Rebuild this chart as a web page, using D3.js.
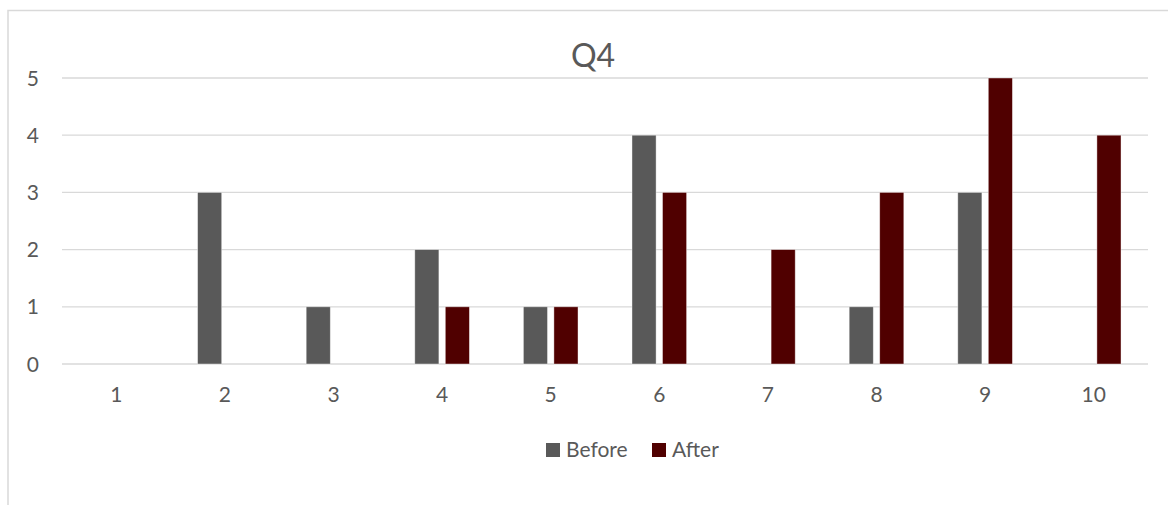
<!DOCTYPE html>
<html>
<head>
<meta charset="utf-8">
<script src="https://cdn.jsdelivr.net/npm/d3@7"></script>
<style>
  html, body { margin: 0; padding: 0; background: #fff; }
  svg { display: block; font-family: Lato, "Open Sans", sans-serif; }
</style>
</head>
<body>
<svg id="chart" width="1169" height="505"></svg>
<script>
// Responses per score, before and after
const categories = ["1", "2", "3", "4", "5", "6", "7", "8", "9", "10"];
const seriesNames = ["Before", "After"];
const beforeValues = [0, 3, 1, 2, 1, 4, 0, 1, 3, 0];
const afterValues = [0, 0, 0, 1, 1, 3, 2, 3, 5, 4];
const yTicks = [0, 1, 2, 3, 4, 5];
const colors = ["#595959", "#500000"];

const svg = d3.select("#chart");
const textColor = "#595959";
const gridColor = "#d9d9d9";

// outer frame (left and top edges visible)
svg.append("path")
  .attr("d", "M8,505 L8,10.5 L1168,10.5")
  .attr("fill", "none")
  .attr("stroke", gridColor)
  .attr("stroke-width", 1.5);

const plot = { left: 62, right: 1148, top: 78, bottom: 364 };

const x0 = d3.scaleBand()
  .domain(categories)
  .range([plot.left, plot.right])
  .paddingInner(0.497)
  .paddingOuter(0.2485);

const x1 = d3.scaleBand()
  .domain(seriesNames)
  .range([0, x0.bandwidth()])
  .paddingInner(0.21);

const y = d3.scaleLinear().domain([0, 5]).range([plot.bottom, plot.top]);

// gridlines
svg.append("g")
  .selectAll("line")
  .data(yTicks)
  .join("line")
  .attr("x1", plot.left)
  .attr("x2", plot.right)
  .attr("y1", d => y(d))
  .attr("y2", d => y(d))
  .attr("stroke", gridColor)
  .attr("stroke-width", 1.3);

// y tick labels
svg.append("g")
  .selectAll("text")
  .data(yTicks)
  .join("text")
  .attr("x", 39)
  .attr("y", d => y(d))
  .attr("dy", "0.36em")
  .attr("text-anchor", "end")
  .attr("fill", textColor)
  .attr("font-size", 21)
  .text(d => d);

// x tick labels
svg.append("g")
  .selectAll("text")
  .data(categories)
  .join("text")
  .attr("x", d => x0(d) + x0.bandwidth() / 2)
  .attr("y", 402)
  .attr("text-anchor", "middle")
  .attr("fill", textColor)
  .attr("font-size", 21)
  .text(d => d);

// bars
const rows = categories.map((c, i) => ({
  cat: c,
  vals: [
    { name: "Before", v: beforeValues[i] },
    { name: "After", v: afterValues[i] }
  ]
}));

svg.append("g")
  .selectAll("g")
  .data(rows)
  .join("g")
  .attr("transform", d => `translate(${x0(d.cat)},0)`)
  .selectAll("rect")
  .data(d => d.vals.filter(e => e.v > 0))
  .join("rect")
  .attr("x", d => x1(d.name))
  .attr("width", x1.bandwidth())
  .attr("y", d => y(d.v))
  .attr("height", d => y(0) - y(d.v))
  .attr("fill", d => colors[seriesNames.indexOf(d.name)])
  .attr("stroke", "#ffffff")
  .attr("stroke-opacity", 0.5)
  .attr("stroke-width", 0.8);

// title
svg.append("text")
  .attr("x", 593)
  .attr("y", 67)
  .attr("text-anchor", "middle")
  .attr("fill", textColor)
  .attr("font-size", 32)
  .text("Q4");

// legend
const legendItems = [
  { name: "Before", sx: 546 },
  { name: "After", sx: 652 }
];
const lg = svg.append("g");
legendItems.forEach((item, i) => {
  lg.append("rect")
    .attr("x", item.sx)
    .attr("y", 443)
    .attr("width", 14)
    .attr("height", 14)
    .attr("fill", colors[i]);
  lg.append("text")
    .attr("x", item.sx + 20)
    .attr("y", 457)
    .attr("fill", textColor)
    .attr("font-size", 21)
    .text(item.name);
});
</script>
</body>
</html>
